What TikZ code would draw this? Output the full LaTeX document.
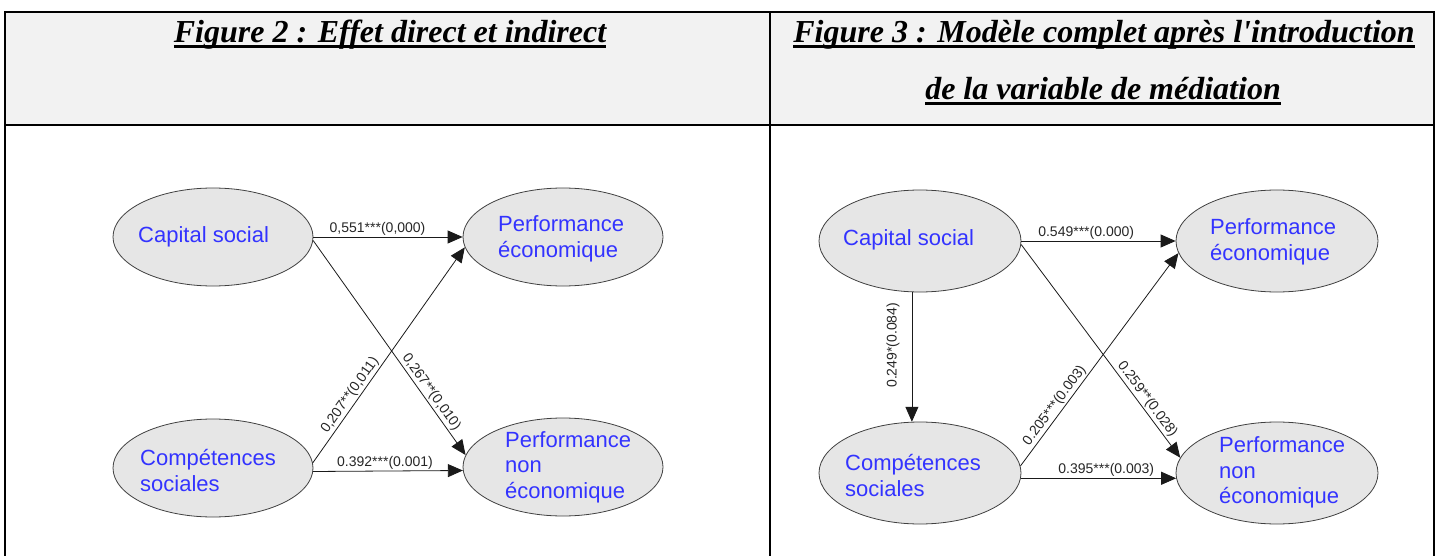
\documentclass[tikz,border=0pt]{standalone}
\usepackage{fontspec}
\setmainfont{Liberation Serif}
\setsansfont{Liberation Sans}
\usetikzlibrary{shapes.geometric,arrows.meta}
\definecolor{headfill}{HTML}{F2F2F2}
\definecolor{ellfill}{HTML}{E6E6E6}
\definecolor{vblue}{HTML}{3333FF}
\definecolor{edgecol}{HTML}{1A1A1A}
% underlined title text with a thick bar
\newcommand\ulbar[1]{\setbox0\hbox{#1}\rlap{\rule[-5pt]{\wd0}{2.6pt}}\box0}

\begin{document}
\begin{tikzpicture}[x=1pt,y=-1pt,
  var/.style={ellipse, draw=black!75, line width=0.8pt, fill=ellfill,
    minimum width=200pt, minimum height=98pt, inner sep=0pt},
  varb/.style={var, minimum width=202pt, minimum height=102pt},
  vtext/.style={anchor=base west, inner sep=0pt, text=vblue,
    font=\sffamily\fontsize{22}{25}\selectfont},
  link/.style={draw=edgecol, line width=0.8pt, -{Triangle[length=15pt,width=13pt]}},
  coef/.style={font=\sffamily\fontsize{14}{16}\selectfont, inner sep=1.5pt, text=black!85},
  headtitle/.style={anchor=base, inner sep=0pt,
    font=\bfseries\itshape\fontsize{32}{36}\selectfont},
  gridline/.style={line width=2pt, black}]

\useasboundingbox (0,0) rectangle (1440,556);

% table frame
\fill[headfill] (5,12) rectangle (1434,125);
\draw[gridline] (4,12) -- (1435,12);
\draw[gridline] (5,12) -- (5,560);
\draw[gridline] (770,12) -- (770,560);
\draw[gridline] (1434,12) -- (1434,560);
\draw[gridline] (5,125) -- (1434,125);

% headings
\node[headtitle] (h1) at (390,43) {\ulbar{Figure 2 : Effet direct et indirect}};
\node[headtitle] (h2a) at (1104,43) {\ulbar{Figure 3 : Modèle complet après l\textquotesingle introduction}};
\node[headtitle] (h2b) at (1103,100) {\ulbar{de la variable de médiation}};

% ---- direct and indirect effects ----
\node[var] (cs1) at (213,237) {};
\node[var] (pe1) at (563,237) {};
\node[var] (co1) at (213,468) {};
\node[var] (pn1) at (563,467) {};

\node[vtext] (cs1t) at (138,242) {Capital social};
\node[vtext] (pe1a) at (498,232) {Performance};
\node[vtext] (pe1b) at (498,257) {économique};
\node[vtext] (co1a) at (140,465) {Compétences};
\node[vtext] (co1b) at (140,491) {sociales};
\node[vtext] (pn1a) at (505,447) {Performance};
\node[vtext] (pn1b) at (505,472.5) {non};
\node[vtext] (pn1c) at (505,498) {économique};

\draw[link] (cs1.east) -- node[coef, above, pos=0.43] (c11) {0,551***(0,000)} (pe1.west);
\draw[link] (cs1.-2) -- node[coef, above, sloped, pos=0.73] (c12) {0,267**(0,010)} (pn1.173);
\draw[link] (co1.3.5) -- node[coef, above, sloped, pos=0.29] (c13) {0,207**(0,011)} (pe1.186);
\draw[link] (co1.-2.3) -- node[coef, above, pos=0.48] (c14) {0.392***(0.001)} (pn1.182.3);

% ---- full model with the mediating variable ----
\node[varb] (cs2) at (920,241) {};
\node[varb] (pe2) at (1277,241) {};
\node[varb] (co2) at (920,473) {};
\node[varb] (pn2) at (1277,473) {};

\node[vtext] (cs2t) at (843,245) {Capital social};
\node[vtext] (pe2a) at (1210,234) {Performance};
\node[vtext] (pe2b) at (1210,260) {économique};
\node[vtext] (co2a) at (845,470) {Compétences};
\node[vtext] (co2b) at (845,496) {sociales};
\node[vtext] (pn2a) at (1219,452) {Performance};
\node[vtext] (pn2b) at (1219,478) {non};
\node[vtext] (pn2c) at (1219,503) {économique};

\draw[link] (cs2.east) -- node[coef, above, pos=0.42] (c21) {0.549***(0.000)} (pe2.west);
\draw[link] (cs2.-2.9) -- node[coef, above, sloped, pos=0.75] (c22) {0.259**(0.028)} (pn2.171);
\draw[link] (co2.4.6) -- node[coef, above, sloped, pos=0.26] (c23) {0.205***(0.003)} (pe2.187.3);
\draw[link] (co2.-3) -- node[coef, above, pos=0.55] (c24) {0.395***(0.003)} (pn2.183);
\draw[link] (cs2.261) -- node[coef, pos=0.41, xshift=-19pt, rotate=90] (c25) {0.249*(0.084)} (co2.99);

\end{tikzpicture}
\end{document}
